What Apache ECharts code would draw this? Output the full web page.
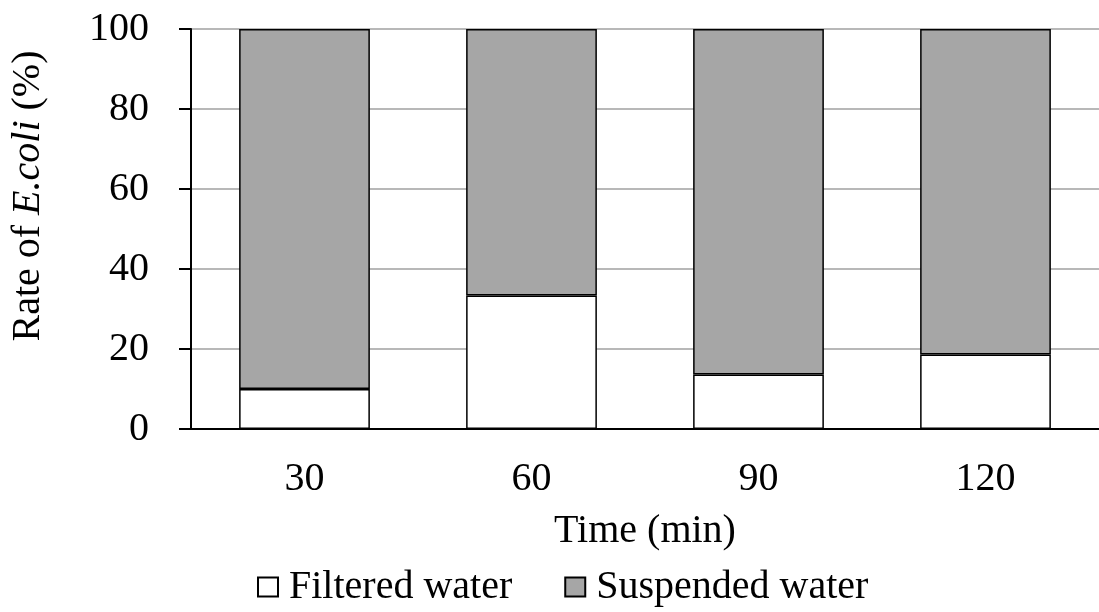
<!DOCTYPE html>
<html>
<head>
<meta charset="utf-8">
<script src="https://cdn.jsdelivr.net/npm/echarts@6/dist/echarts.min.js"></script>
<style>
  html, body { margin: 0; padding: 0; background: #fff; }
  #chart { width: 1099px; height: 612px; }
</style>
</head>
<body>
<div id="chart"></div>
<script>
// Sampling times (min)
const times = ['30', '60', '90', '120'];
// Share of E. coli found in each water fraction (%)
const filteredWater = [10.0, 33.4, 13.6, 18.6];
const suspendedWater = [90.0, 66.6, 86.4, 81.4];
const yTicks = [0, 20, 40, 60, 80, 100];

const serif = '"Liberation Serif", "Times New Roman", serif';
const FS = 40;

const chart = echarts.init(document.getElementById('chart'), null, { renderer: 'canvas' });

chart.setOption({
  animation: false,
  backgroundColor: '#ffffff',
  textStyle: { fontFamily: serif, color: '#000' },
  grid: { left: 191, right: 0, top: 29, bottom: 183, outerBoundsMode: 'none', containLabel: false },
  legend: {
    top: 567,
    left: 257,
    padding: 0,
    itemWidth: 20,
    itemHeight: 19,
    itemGap: 52,
    icon: 'rect',
    textStyle: { fontFamily: serif, fontSize: FS, color: '#000', padding: [0, 0, 0, 6] },
    data: ['Filtered water', 'Suspended water']
  },
  xAxis: {
    type: 'category',
    data: times,
    name: 'Time (min)',
    nameLocation: 'middle',
    nameGap: 82,
    nameTextStyle: { fontFamily: serif, fontSize: FS, color: '#000' },
    axisLine: { lineStyle: { color: '#000', width: 2 } },
    axisTick: { show: false },
    axisLabel: { fontFamily: serif, fontSize: FS, color: '#000', margin: 30 }
  },
  yAxis: {
    type: 'value',
    min: yTicks[0],
    max: yTicks[yTicks.length - 1],
    interval: 20,
    name: '{a|Rate of }{i|E.coli}{a| (%)}',
    nameLocation: 'middle',
    nameGap: 143,
    nameTextStyle: {
      padding: [0, 0, 0, 66],
      rich: {
        a: { fontFamily: serif, fontSize: FS, color: '#000' },
        i: { fontFamily: serif, fontSize: FS, color: '#000', fontStyle: 'italic' }
      }
    },
    axisLine: { show: true, lineStyle: { color: '#000', width: 2 } },
    axisTick: { show: true, length: 12, lineStyle: { color: '#000', width: 2 } },
    axisLabel: { fontFamily: serif, fontSize: FS, color: '#000', margin: 42 },
    splitLine: { show: true, lineStyle: { color: '#a0a0a0', width: 1.5 } }
  },
  series: [
    {
      name: 'Filtered water',
      type: 'bar',
      stack: 'total',
      barWidth: '57.6%',
      data: filteredWater,
      itemStyle: { color: '#ffffff', borderColor: '#000', borderWidth: 1.5 }
    },
    {
      name: 'Suspended water',
      type: 'bar',
      stack: 'total',
      barWidth: '57.6%',
      data: suspendedWater,
      itemStyle: { color: '#a6a6a6', borderColor: '#000', borderWidth: 1.5 }
    }
  ]
});
</script>
</body>
</html>
